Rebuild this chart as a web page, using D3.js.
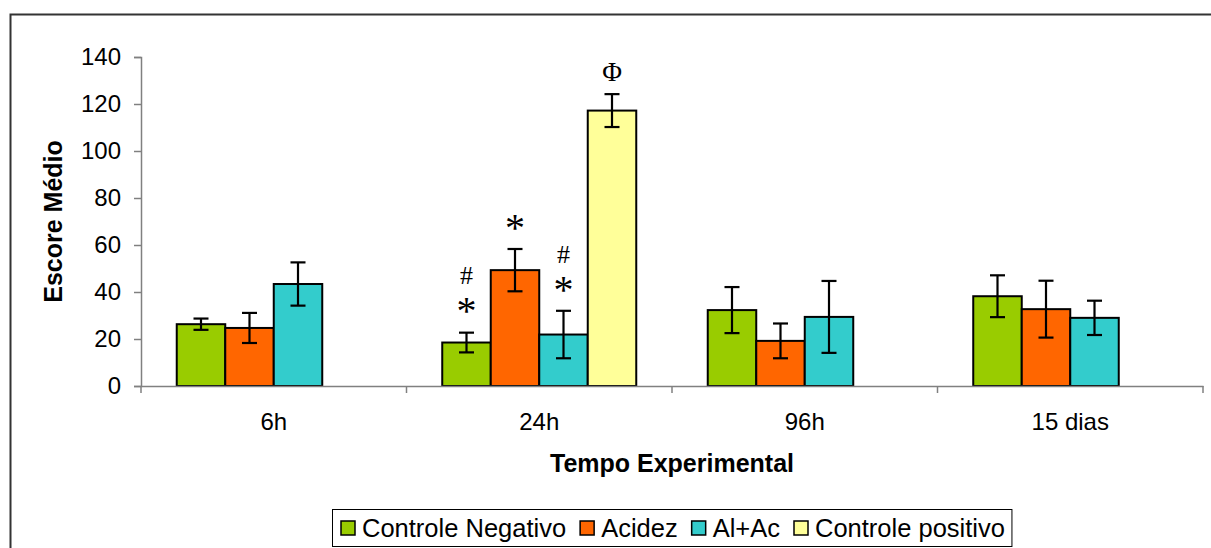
<!DOCTYPE html>
<html>
<head>
<meta charset="utf-8">
<script src="https://cdn.jsdelivr.net/npm/d3@7"></script>
<style>
  body { margin: 0; background: #fff; }
  svg { display: block; font-family: "Liberation Sans", Arial, sans-serif; }
</style>
</head>
<body>
<svg id="chart" width="1211" height="548"></svg>
<script>
// categorias e séries
var categories = ['6h', '24h', '96h', '15 dias'];
var series = ['Controle Negativo', 'Acidez', 'Al+Ac', 'Controle positivo'];
var colors = ['#99CC00', '#FF6600', '#33CCCC', '#FFFF99'];

var controle_negativo = [26.3, 18.5, 32.3, 38.2];
var acidez            = [24.7, 49.3, 19.2, 32.7];
var al_ac             = [43.4, 21.9, 29.4, 29.0];
var controle_positivo = [null, 117.2, null, null];

var err_controle_negativo = [2.4, 4.2, 9.8, 8.9];
var err_acidez            = [6.4, 9.0, 7.4, 12.1];
var err_al_ac             = [9.2, 10.1, 15.3, 7.3];
var err_controle_positivo = [null, 7.0, null, null];

var y_ticks = [0, 20, 40, 60, 80, 100, 120, 140];

// marcas de significância: categoria, série, símbolo
var marks = [
    {cat: '24h', s: 0, text: '*'},
    {cat: '24h', s: 0, text: '#'},
    {cat: '24h', s: 1, text: '*'},
    {cat: '24h', s: 2, text: '*'},
    {cat: '24h', s: 2, text: '#'},
    {cat: '24h', s: 3, text: 'Φ'}
];

var values = [controle_negativo, acidez, al_ac, controle_positivo];
var errors = [err_controle_negativo, err_acidez, err_al_ac, err_controle_positivo];

var rows = [];
categories.forEach(function (c, i) {
    series.forEach(function (s, j) {
        if (values[j][i] == null) return;
        rows.push({cat: c, s: j, v: values[j][i], e: errors[j][i]});
    });
});

var svg = d3.select('#chart');
var plot = {left: 141, right: 1203, top: 57, bottom: 386};
var tick_font = 24;

// moldura externa
svg.append('rect')
    .attr('x', 10.5).attr('y', 14.5)
    .attr('width', 1240).attr('height', 600)
    .attr('fill', 'none')
    .attr('stroke', '#333')
    .attr('stroke-width', 2);

var x = d3.scaleBand().domain(categories).range([plot.left, plot.right]).padding(0);
var x1 = d3.scaleBand().domain(d3.range(series.length)).range([0, x.bandwidth()])
    .paddingInner(0).paddingOuter(0.737);
var y = d3.scaleLinear().domain([0, 140]).range([plot.bottom, plot.top]);

// eixo y
var y_axis = svg.append('g')
    .attr('transform', 'translate(' + plot.left + ',0)')
    .call(d3.axisLeft(y).tickValues(y_ticks).tickSize(7).tickPadding(13));
y_axis.select('.domain').attr('stroke', '#808080').attr('stroke-width', 1.5);
y_axis.selectAll('.tick line').attr('stroke', '#808080').attr('stroke-width', 1.5);
y_axis.selectAll('.tick text').attr('font-size', tick_font).attr('font-family', '"Liberation Sans", Arial, sans-serif').attr('fill', '#000');

// barras
var bars = svg.append('g');
bars.selectAll('rect')
    .data(rows)
    .enter()
    .append('rect')
    .attr('x', function (d) { return x(d.cat) + x1(d.s); })
    .attr('y', function (d) { return y(d.v); })
    .attr('width', x1.bandwidth())
    .attr('height', function (d) { return y(0) - y(d.v); })
    .attr('fill', function (d) { return colors[d.s]; })
    .attr('stroke', '#000')
    .attr('stroke-width', 2);

// eixo x
var x_axis = svg.append('g')
    .attr('transform', 'translate(0,' + plot.bottom + ')')
    .call(d3.axisBottom(x).tickSize(0).tickPadding(27));
x_axis.select('.domain').attr('stroke', '#808080').attr('stroke-width', 1.5);
x_axis.selectAll('.tick text').attr('font-size', tick_font).attr('font-family', '"Liberation Sans", Arial, sans-serif').attr('fill', '#000');
var bounds = categories.map(function (c) { return x(c); }).concat([plot.right]);
x_axis.selectAll('line.sep')
    .data(bounds)
    .enter()
    .append('line')
    .attr('class', 'sep')
    .attr('x1', function (d) { return d; })
    .attr('x2', function (d) { return d; })
    .attr('y1', 0).attr('y2', 7)
    .attr('stroke', '#808080')
    .attr('stroke-width', 1.5);

// barras de erro
var cap = 7.5;
var eb = svg.append('g').attr('stroke', '#000').attr('stroke-width', 2.2);
rows.forEach(function (d) {
    var cx = x(d.cat) + x1(d.s) + x1.bandwidth() / 2;
    var y_hi = y(d.v + d.e), y_lo = y(d.v - d.e);
    eb.append('line').attr('x1', cx).attr('x2', cx).attr('y1', y_hi).attr('y2', y_lo);
    eb.append('line').attr('x1', cx - cap).attr('x2', cx + cap).attr('y1', y_hi).attr('y2', y_hi);
    eb.append('line').attr('x1', cx - cap).attr('x2', cx + cap).attr('y1', y_lo).attr('y2', y_lo);
});

// símbolos: gap = distância do centro do símbolo ao topo da barra de erro,
// mid = altura do centro do glifo acima da linha de base (em)
var mark_style = {
    '*': {size: 40, gap: 27, mid: 0.47},
    '#': {size: 26, gap: 57, mid: 0.34},
    'Φ': {size: 27, gap: 22, mid: 0.33}
};
svg.append('g').selectAll('text')
    .data(marks)
    .enter()
    .append('text')
    .attr('x', function (d) { return x(d.cat) + x1(d.s) + x1.bandwidth() / 2; })
    .attr('y', function (d) {
        var i = categories.indexOf(d.cat);
        var st = mark_style[d.text];
        return y(values[d.s][i] + errors[d.s][i]) - st.gap + st.mid * st.size;
    })
    .attr('text-anchor', 'middle')
    .attr('font-family', '"Liberation Serif", "Times New Roman", serif')
    .attr('font-size', function (d) { return mark_style[d.text].size; })
    .text(function (d) { return d.text; });

// títulos dos eixos
svg.append('text')
    .attr('x', (plot.left + plot.right) / 2)
    .attr('y', 472)
    .attr('text-anchor', 'middle')
    .attr('font-size', 25)
    .attr('font-weight', 'bold')
    .text('Tempo Experimental');
svg.append('text')
    .attr('transform', 'translate(62,' + (plot.top + plot.bottom) / 2 + ') rotate(-90)')
    .attr('text-anchor', 'middle')
    .attr('font-size', 25)
    .attr('font-weight', 'bold')
    .text('Escore Médio');

// legenda
var legend = svg.append('g');
var legend_box = legend.append('rect')
    .attr('x', 332.5).attr('y', 509.5)
    .attr('height', 37)
    .attr('fill', '#fff')
    .attr('stroke', '#000')
    .attr('stroke-width', 1);
var lx = 341;
series.forEach(function (s, j) {
    legend.append('rect')
        .attr('x', lx).attr('y', 521)
        .attr('width', 14).attr('height', 14)
        .attr('fill', colors[j])
        .attr('stroke', '#000')
        .attr('stroke-width', 1.5);
    var t = legend.append('text')
        .attr('x', lx + 21).attr('y', 537)
        .attr('font-size', 25.5)
        .text(s);
    lx += 21 + t.node().getComputedTextLength() + 14;
});
legend_box.attr('width', lx - 332.5 - 7);
</script>
</body>
</html>
